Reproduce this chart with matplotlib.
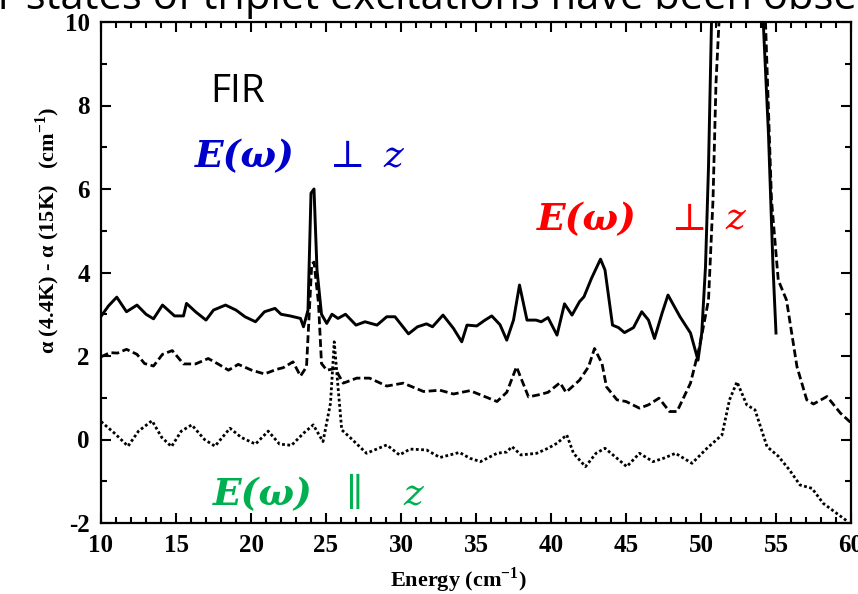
import numpy as np
import matplotlib
matplotlib.use('Agg')
from matplotlib import pyplot as plt
from matplotlib.ticker import MultipleLocator

plt.rcParams['axes.unicode_minus'] = False

# E perp z, solid line
solid_x = [10.0, 10.5, 11.05, 11.7, 12.4, 13.0, 13.5, 14.1, 14.9, 15.5, 15.7, 16.3, 17.0, 17.5,
           18.3, 19.0, 19.6, 20.3, 20.9, 21.6, 22.0, 22.6, 23.3, 23.5, 23.8, 24.0, 24.2, 24.4,
           24.7, 25.05, 25.4, 25.8, 26.3, 27.0, 27.6, 28.4, 29.05, 29.6, 30.5, 31.1, 31.7, 32.1,
           32.8, 33.5, 34.05, 34.4, 35.05, 35.6, 36.05, 36.6, 37.05, 37.5, 37.9, 38.4, 39.0,
           39.35, 39.8, 40.4, 40.9, 41.4, 41.9, 42.2, 42.7, 43.3, 43.6, 44.1, 44.5, 44.9, 45.5,
           46.05, 46.5, 46.9, 47.4, 47.8, 48.6, 49.3, 49.8, 50.05, 50.3, 50.5, 50.7, 50.8,
           54.05, 54.15, 54.5, 54.8, 55.0]
solid_y = [2.95, 3.2, 3.41, 3.06, 3.22, 3.0, 2.89, 3.22, 2.96, 2.96, 3.26, 3.06, 2.86, 3.1,
           3.22, 3.1, 2.94, 2.82, 3.06, 3.14, 3.0, 2.96, 2.9, 2.7, 3.1, 5.9, 6.0, 4.06,
           3.0, 2.78, 3.0, 2.9, 3.0, 2.74, 2.82, 2.74, 2.94, 2.94, 2.53, 2.7, 2.77, 2.7,
           2.98, 2.66, 2.34, 2.74, 2.72, 2.86, 2.96, 2.75, 2.38, 2.86, 3.70, 2.86, 2.86,
           2.82, 2.92, 2.50, 3.25, 2.98, 3.30, 3.42, 3.86, 4.32, 4.06, 2.74, 2.68, 2.56, 2.68,
           3.06, 2.86, 2.42, 3.02, 3.46, 2.94, 2.55, 1.90, 2.55, 4.14, 6.53, 10.0, 11.0,
           11.0, 10.0, 7.3, 4.14, 2.55]

# E perp z, dashed line
dash_x = [10.0, 10.6, 11.1, 11.7, 12.4, 12.9, 13.5, 14.1, 14.75, 15.5, 16.3, 17.15, 17.8, 18.5,
          19.15, 20.05, 20.9, 21.7, 22.15, 22.8, 23.3, 23.7, 24.05, 24.2, 24.5, 24.7, 25.05,
          25.6, 26.15, 27.05, 27.9, 29.05, 30.15, 31.5, 32.6, 33.5, 34.6, 35.5, 36.4, 37.05,
          37.7, 38.5, 39.3, 39.8, 40.6, 41.0, 41.9, 42.5, 42.9, 43.4, 43.7, 44.4, 45.0, 45.9,
          46.5, 47.2, 47.9, 48.4, 49.3, 49.9, 50.5, 50.8, 51.0, 51.2, 51.3, 54.2, 54.3, 54.7,
          55.15, 55.7, 56.4, 57.05, 57.5, 58.4, 59.3, 60.0]
dash_y = [1.98, 2.08, 2.07, 2.16, 2.04, 1.82, 1.76, 2.04, 2.13, 1.81, 1.81, 1.94, 1.81, 1.66,
          1.80, 1.66, 1.57, 1.68, 1.72, 1.86, 1.52, 1.74, 4.2, 4.25, 3.26, 1.82, 1.66,
          1.70, 1.35, 1.47, 1.47, 1.28, 1.35, 1.15, 1.18, 1.09, 1.17, 1.04, 0.91, 1.13,
          1.74, 1.02, 1.08, 1.13, 1.36, 1.13, 1.42, 1.74, 2.18, 1.82, 1.26, 0.95, 0.91, 0.75,
          0.83, 0.99, 0.67, 0.67, 1.35, 2.22, 3.34, 5.74, 8.54, 10.0, 11.0, 11.0, 10.0, 5.74,
          3.82, 3.34, 1.74, 0.95, 0.85, 1.03, 0.63, 0.40]

# E parallel z, dotted line
dot_x = [10.0, 10.9, 11.8, 12.5, 13.4, 14.05, 14.7, 15.35, 16.05, 16.9, 17.6, 18.6, 19.35, 20.3,
         21.15, 21.9, 22.7, 23.5, 24.15, 24.8, 25.3, 25.55, 25.8, 26.05, 26.6, 27.7, 29.05,
         29.9, 30.6, 31.7, 32.6, 33.9, 34.6, 35.3, 36.4, 37.05, 37.4, 38.0, 39.05, 39.8, 40.4,
         41.05, 41.5, 42.3, 43.0, 43.6, 44.4, 45.05, 45.9, 46.8, 47.5, 48.3, 49.4, 50.4, 51.4,
         51.9, 52.4, 53.05, 53.6, 54.4, 55.15, 55.9, 56.6, 57.4, 58.15, 58.9, 59.8]
dot_y = [0.43, 0.15, -0.16, 0.2, 0.45, 0.05, -0.17, 0.2, 0.35, 0.0, -0.16, 0.27, 0.05, -0.11,
         0.2, -0.11, -0.14, 0.15, 0.35, -0.05, 0.87, 2.34, 1.26, 0.23, 0.05, -0.33, -0.13,
         -0.37, -0.23, -0.25, -0.43, -0.31, -0.45, -0.53, -0.33, -0.30, -0.17, -0.37, -0.33, -0.21, -0.09,
         0.11, -0.33, -0.65, -0.33, -0.21, -0.45, -0.65, -0.33, -0.53, -0.45, -0.33, -0.57, -0.21, 0.11,
         0.95, 1.38, 0.83, 0.71, -0.17, -0.40, -0.73, -1.09, -1.17, -1.53, -1.73, -1.97]

serif = ['Liberation Serif', 'DejaVu Serif']
W, H = 858, 594

fig = plt.figure(figsize=(8.58, 5.94), dpi=100)
ax = fig.add_axes([101/W, 71/H, 750/W, 501/H])

ax.plot(solid_x, solid_y, color='black', lw=2.1, solid_joinstyle='round')
ax.plot(dash_x, dash_y, color='black', lw=2.0, linestyle=(0, (2.8, 1.3)))
ax.plot(dot_x, dot_y, color='black', lw=2.0, linestyle=(0, (1.0, 0.9)))

ax.set_xlim(10, 60)
ax.set_ylim(-2, 10)
ax.xaxis.set_major_locator(MultipleLocator(5))
ax.xaxis.set_minor_locator(MultipleLocator(1))
ax.yaxis.set_major_locator(MultipleLocator(2))
ax.yaxis.set_minor_locator(MultipleLocator(1))
ax.tick_params(which='both', direction='in', top=True, right=True, width=1.5)
ax.tick_params(which='major', length=7, pad=8)
ax.tick_params(which='minor', length=4)
for s in ax.spines.values():
    s.set_linewidth(1.6)
for lab in ax.get_xticklabels() + ax.get_yticklabels():
    lab.set_fontfamily(serif)
    lab.set_fontweight('bold')
    lab.set_fontsize(18)

ax.set_xlabel('Energy (cm$^{\\mathregular{-1}}$)', family=serif, fontsize=16, weight='bold')
ax.xaxis.set_label_coords(0.477, -0.085)
ax.set_ylabel('α (4.4K) - α (15K)   (cm$^{\\mathregular{-1}}$)', family=serif, fontsize=16,
              weight='bold')
ax.yaxis.set_label_coords(-0.052, 0.585)


def ptext(px, py, s, **kw):
    # place text by pixel position (left, baseline) in the figure
    fig.text(px / W, 1 - py / H, s, va='baseline', **kw)


ptext(210, 102, 'FIR', family='Open Sans', fontsize=28)

labels = [('#0000CC', 195, 330, 383, 167, '⊥'),
          ('#FF0000', 537, 672, 725, 230, '⊥'),
          ('#00B050', 213, 346, 403, 505, '∥')]
for col, x0, x1, x2, base, sym in labels:
    ptext(x0, base, 'E(ω)', family='DejaVu Serif', fontsize=27, style='italic',
          weight='bold', color=col)
    ptext(x1, base, sym, family='DejaVu Serif', fontsize=27, color=col)
    ptext(x2, base, 'z', family='DejaVu Serif', fontsize=27, style='italic', color=col)

# cropped sentence from the slide above the figure
ptext(-2, 9, 'r states of triplet excitations have been observed',
      family='Open Sans', fontsize=30)

fig.savefig('out.png', dpi=100)
